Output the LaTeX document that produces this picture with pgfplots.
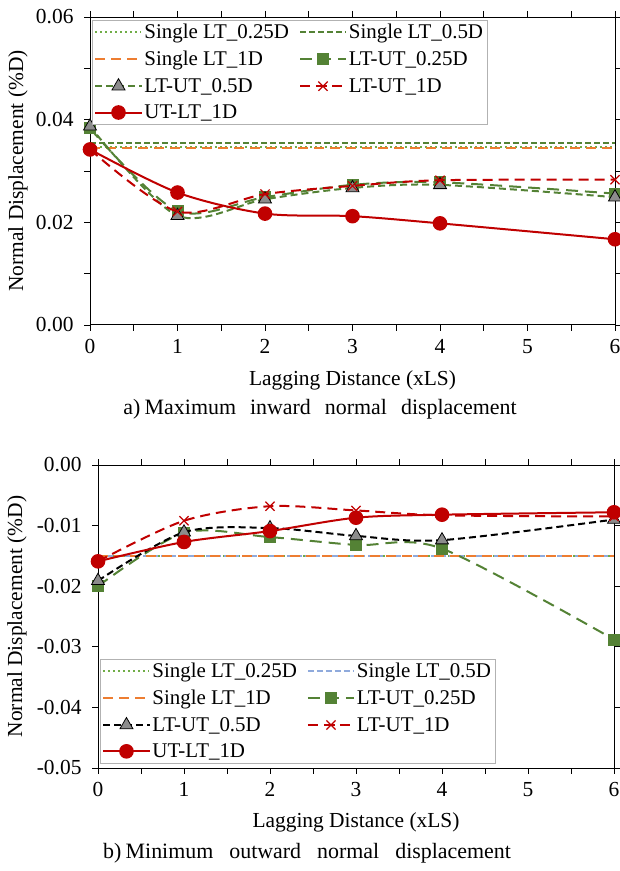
\documentclass[border=0pt]{standalone}
\usepackage{fontspec}
\setmainfont{Liberation Serif}
\usepackage{pgfplots}
\pgfplotsset{compat=1.18}
\definecolor{lgreen}{HTML}{70AD47}
\definecolor{dgreen}{HTML}{548235}
\definecolor{orng}{HTML}{ED7D31}
\definecolor{dred}{HTML}{C00000}
\definecolor{lblue}{HTML}{8FAADC}
\definecolor{mgray}{HTML}{8C8C8C}
\pgfplotsset{
  mystyle/.style={
    scale only axis,
    xmin=0, xmax=6, xtick={0,1,2,3,4,5,6}, minor x tick num=1,
    tick align=outside, major tick length=6bp, minor tick length=6bp,
    tick style={black, line width=0.8pt},
    axis line style={black, line width=1pt},
    ticklabel style={font=\fontsize{21.5}{24}\selectfont},
    label style={font=\fontsize{21.5}{24}\selectfont},
    xticklabel shift=5bp,
    yticklabel shift=7bp,
    /pgf/number format/assume math mode=true,
    scaled y ticks=false,
    yticklabel style={/pgf/number format/fixed, /pgf/number format/fixed zerofill, /pgf/number format/precision=2},
    xlabel={Lagging Distance (xLS)},
    ylabel={Normal Displacement (\%D)},
    clip mode=individual,
    legend style={font=\fontsize{21}{24}\selectfont, draw=gray!60, line width=0.8pt,
      legend columns=2, legend cell align=left,
      /tikz/every even column/.append style={column sep=8bp},
      inner sep=2bp, row sep=7bp},
    legend image code/.code={\draw[mark repeat=2,mark phase=2] plot coordinates {(0bp,0bp) (23bp,0bp) (46bp,0bp)};},
  },
  dotl/.style={lgreen, line width=2bp, dash pattern=on 2bp off 3bp},
  shortd/.style={line width=2bp, dash pattern=on 6bp off 3bp},
  longd/.style={line width=2bp, dash pattern=on 10bp off 6bp},
  sq/.style={dgreen, line width=2bp, dash pattern=on 12bp off 7bp, mark=square*, mark size=5bp, mark options={solid, fill=dgreen}},
  tri/.style={line width=2bp, dash pattern=on 7bp off 4bp, mark=triangle*, mark size=7.5bp, mark options={solid, fill=mgray, draw=black, line width=0.8pt}},
  crs/.style={dred, line width=2bp, dash pattern=on 10bp off 6bp, mark=x, mark size=6.5bp, mark options={solid, line width=1.2pt}},
  circ/.style={dred, line width=2bp, mark=*, mark size=6.3bp, mark options={solid, fill=dred}},
}
\begin{document}
\begin{tikzpicture}
\path[use as bounding box] (0,0) rectangle (620bp,871bp);
% ---------- top ----------
\begin{axis}[mystyle,
  at={(90bp,546bp)}, anchor=south west,
  width=525bp, height=308bp,
  ymin=0, ymax=0.06, ytick={0,0.02,0.04,0.06}, minor y tick num=1,
  xlabel style={at={(axis description cs:0.5,-0.18)}, anchor=center},
  ylabel style={at={(axis description cs:-0.137,0.5)}, anchor=center, rotate=0},
  legend style={at={(0.004,0.99)}, anchor=north west},
]
\addplot[dotl] coordinates {(0,0.0346) (6,0.0346)};
\addlegendentry{Single LT\_0.25D}
\addplot[dgreen, shortd] coordinates {(0,0.0355) (6,0.0355)};
\addlegendentry{Single LT\_0.5D}
\addplot[orng, longd] coordinates {(0,0.0345) (6,0.0345)};
\addlegendentry{Single LT\_1D}
\addplot[sq, smooth] coordinates {(0,0.0383) (1,0.0222) (2,0.0249) (3,0.0273) (4,0.0278) (6,0.0256)};
\addlegendentry{LT-UT\_0.25D}
\addplot[tri, dgreen, smooth] coordinates {(0,0.0387) (1,0.0213) (2,0.0245) (3,0.0267) (4,0.0273) (6,0.0249)};
\addlegendentry{LT-UT\_0.5D}
\addplot[crs, smooth] coordinates {(0,0.0342) (1,0.0221) (2,0.0255) (3,0.0271) (4,0.0282) (6,0.0283)};
\addlegendentry{LT-UT\_1D}
\addplot[circ, smooth] coordinates {(0,0.0342) (1,0.0258) (2,0.0217) (3,0.0212) (4,0.0198) (6,0.0167)};
\addlegendentry{UT-LT\_1D}
\end{axis}
% ---------- bottom ----------
\begin{axis}[mystyle,
  at={(98bp,103bp)}, anchor=south west,
  width=516bp, height=303bp,
  ymin=-0.05, ymax=0, ytick={-0.05,-0.04,-0.03,-0.02,-0.01,0},
  xlabel style={at={(axis description cs:0.5,-0.18)}, anchor=center},
  ylabel style={at={(axis description cs:-0.157,0.5)}, anchor=center, rotate=0},
  legend style={at={(0.004,0.36)}, anchor=north west},
]
\addplot[dotl] coordinates {(0,-0.015) (6,-0.015)};
\addlegendentry{Single LT\_0.25D}
\addplot[lblue, shortd] coordinates {(0,-0.015) (6,-0.015)};
\addlegendentry{Single LT\_0.5D}
\addplot[orng, longd] coordinates {(0,-0.015) (6,-0.015)};
\addlegendentry{Single LT\_1D}
\addplot[sq, smooth] coordinates {(0,-0.0200) (1,-0.0112) (2,-0.0119) (3,-0.0132) (4,-0.0138) (6,-0.0288)};
\addlegendentry{LT-UT\_0.25D}
\addplot[tri, black, smooth] coordinates {(0,-0.0191) (1,-0.0111) (2,-0.0104) (3,-0.0117) (4,-0.0124) (6,-0.0090)};
\addlegendentry{LT-UT\_0.5D}
\addplot[crs, smooth] coordinates {(0,-0.0159) (1,-0.0092) (2,-0.0068) (3,-0.0075) (4,-0.0083) (6,-0.0085)};
\addlegendentry{LT-UT\_1D}
\addplot[circ, smooth] coordinates {(0,-0.0159) (1,-0.0127) (2,-0.0109) (3,-0.0087) (4,-0.0082) (6,-0.0078)};
\addlegendentry{UT-LT\_1D}
\end{axis}
% ---------- captions ----------
\node[anchor=center, inner sep=0pt, font=\fontsize{22}{24}\selectfont] at (320bp,462bp)
  {a)\kern0.2em Maximum\hspace{14bp}inward\hspace{14bp}normal\hspace{14bp}displacement};
\node[anchor=center, inner sep=0pt, font=\fontsize{22}{24}\selectfont] at (307bp,18bp)
  {b)\kern0.2em Minimum\hspace{16bp}outward\hspace{16bp}normal\hspace{16bp}displacement};
\end{tikzpicture}
\end{document}
